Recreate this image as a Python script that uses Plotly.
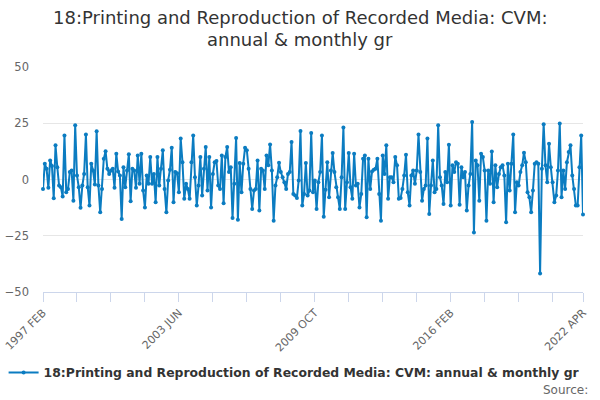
import pandas as pd
import plotly.graph_objects as go

# annual & monthly growth, Feb 1997 .. Apr 2022
values = [
    -4.2, 7, 4.8, -3.7, 8.5, 6, -8.3, 15.2, 5.5, -2.7,
    -3.4, -7.6, 19.6, -5.7, -4.2, 3.3, 4, -9.4, 24.1, 1.8,
    -3.4, -12.6, -2.7, 2.5, 20, -3.4, -11.6, 7, 4, -2.2,
    21.4, -2.7, -14.6, -4.2, 9.2, 12.6, 4.8, 2.5, 4, 4.8,
    -3.7,
    11.5, 3.6, 1.8, -17.6, 5.5, -3.4, 4, 11.2, -9.7, 4.8,
    4, -3.7, 10.7, -1.9, 11.5, -4.9, -12.4, 1.8, -1.9, 10,
    -1.9, 2.5, -10.1, 10, -2.7, 4.8, 13, -4.2, -14.6, -0.4,
    4.3, 14.1, -10.1, 3.3, 2.8, -5.7, 18.2, 7.7, -8.6, -1.9,
    -4.2, -8.6, 7.7, 19.6, 1, -11.6, -2.7, 10, -7.1, 4.8,
    14.4, -4.9, 10,
    -12.4, 2.5, 7.7, 8.2, -2.7, -4.2, 10.7, -10.6, 10, 14.4,
    3.3, 5.5, -17.1, -1.9, 18.5, -17.9, 7.3, -5.7, 7, 14.1,
    13, 4.8, -4.2, -13.1, -4.9, -4.2, 8.5, -13.8, 4.8, 4,
    -4.2, 10.7, 6.3, 15.6, 4, -18.3, -2.7, 1, 7.4, 3.3,
    1, -1.2, -4.2, 2.5, 3.3, 16.7, -6.4, -7.1, -8.2, -0.4,
    21.6, -11.6, -6.4, 7.3, -7.1, -4.9, 20.7, -5.7, -0.4, -13.1,
    -1.2, 3.3, 19.6, -16.5, -4.6, 7.7, -7.9, 4, 11.8, 3.3,
    -3.4, -7.9, -13.1, 1, 23.1, -13.1, -1.2, 11.8, -3.4, -8.6,
    11.5, -2.7, -1.9, -12.4, -6.4, 9.2, 10.7, -16.8, 9.2, -4.2,
    3.6, 4.3, 4.8, 9.2, -6.4, -18.3, 10.7, 2.5, 15.2, -8.6,
    1, 1, -1.2, 10, 6.3, -8.6, -8.2, -4.2, 1.8, 11,
    -5.7, -11.6, 1.8, 4, -1.9, 4, 20, 3.3, -9.4, -4.2,
    -2.7, 18.2, -15.3, -2.7, 8.5, -5.7, -4.2, 24.1, 1, -2.7,
    -10.9, 3.3, -1.2, 15.5, -11.6, 6.3, 3.3, 7.7, 7, -11.2,
    5.5, 1, 3.3, -13.8, -2.7, 2.5, 25.6, -23.5, 8.5, 6.3,
    -9.4,
    11.5, 10, 4, -18.3, 4, -1.9, 12.5, -10.1, 6.3, -3.4,
    2.5, 5.5, 6.3, 1.8, -19, 7, -4.9, 7, 20, -14.6,
    -1.2, -2.7, 3.3, 6.3, 11.9, 7.7, -5.7, -7.9, -14.6, -4.9,
    7, 7.7, 7, -41.8, 4.8, 24.6, 6.3, -1.2, 15.9, 5.5,
    -1.2, -10.1, -7.1, 4, 24.9, -7.9, 4, -4.2, 7.7, 12.2,
    15.2, 1.8, -4.2, -11.6, -11.6, 5.5, 19.6, -15.6,
]

months = [p.strftime("%Y %b").upper()
          for p in pd.period_range("1997-02", periods=len(values), freq="M")]

label_months = ["1997 FEB", "2003 JUN", "2009 OCT", "2016 FEB", "2022 APR"]
series_name = "18:Printing and Reproduction of Recorded Media: CVM: annual & monthly gr"
title_lines = ["18:Printing and Reproduction of Recorded Media: CVM:", "annual & monthly gr"]

# tick marks every 19 months plus the last one, labels only on some
tick_idx = list(range(0, len(months) - 1, 19)) + [len(months) - 1]
tickvals = [months[i] for i in tick_idx]
ticktext = [m if m in label_months else "" for m in tickvals]

fig = go.Figure()
fig.add_trace(go.Scatter(
    x=months, y=values, name=series_name,
    mode="lines+markers",
    line=dict(color="#0b7cc1", width=2),
    marker=dict(color="#0b7cc1", size=4),
    cliponaxis=False,
))

# plot area: x 43..583, y 67..292 px -> paper y = (292 - px) / 225
def py(px):
    return (292 - px) / 225

annotations = [
    dict(text=t, xref="paper", yref="paper", x=0.476, y=py(yc),
         xanchor="center", yanchor="middle", showarrow=False,
         font=dict(size=18, color="#333333"))
    for t, yc in zip(title_lines, [18, 39])
]
annotations.append(dict(
    text="Source:", xref="paper", yref="paper",
    x=1.013, y=py(390), xanchor="right", yanchor="middle",
    showarrow=False, font=dict(size=12, color="#666666"),
))

fig.update_layout(
    width=600, height=400,
    margin=dict(l=43, r=17, t=67, b=108, autoexpand=False),
    paper_bgcolor="white", plot_bgcolor="white",
    font=dict(family="DejaVu Sans", color="#666666"),
    showlegend=True,
    legend=dict(
        orientation="h", x=0.465, xanchor="center", y=py(373), yanchor="middle",
        font=dict(size=12.4, color="#333333", weight="bold"),
    ),
    annotations=annotations,
)

fig.update_xaxes(
    type="category", range=[0, len(months) - 1], automargin=False,
    tickmode="array", tickvals=tickvals, ticktext=ticktext,
    tickangle=-45, tickfont=dict(size=11, color="#666666"),
    ticks="outside", ticklen=9, tickcolor="#ccd6eb",
    showline=True, linecolor="#ccd6eb", showgrid=False,
)
fig.update_yaxes(
    range=[-50, 50], dtick=25, automargin=False,
    tickfont=dict(size=11.5, color="#666666"), ticklabelstandoff=13,
    gridcolor="#e6e6e6", zeroline=False, ticks="", showline=False,
)

fig.write_html("out.html", config={"displayModeBar": False},
               post_script="document.body.style.margin='0';")
